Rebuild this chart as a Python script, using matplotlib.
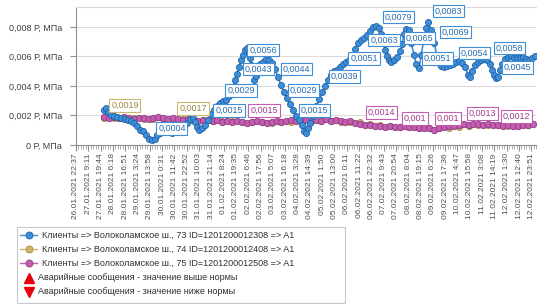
#!/usr/bin/env python

import numpy as np
import matplotlib
matplotlib.use('Agg')
import matplotlib.pyplot as plt
from matplotlib.lines import Line2D
from matplotlib.patches import Rectangle
from matplotlib.ticker import MultipleLocator

plt.close('all')
plt.rcParams['font.family'] = ['Liberation Sans', 'DejaVu Sans']

# =====================================
# Data
# =====================================
xtick_labels = [
    '26.01.2021 22:37', '27.01.2021 9:11', '27.01.2021 19:44', '28.01.2021 6:18',
    '28.01.2021 16:51', '29.01.2021 3:24', '29.01.2021 13:58', '30.01.2021 0:31',
    '30.01.2021 11:42', '30.01.2021 22:52', '31.01.2021 10:03', '31.01.2021 21:14',
    '01.02.2021 8:24', '01.02.2021 19:35', '02.02.2021 6:46', '02.02.2021 17:56',
    '03.02.2021 5:07', '03.02.2021 16:18', '04.02.2021 3:28', '04.02.2021 14:39',
    '05.02.2021 1:50', '05.02.2021 13:00', '06.02.2021 0:11', '06.02.2021 11:22',
    '06.02.2021 22:32', '07.02.2021 9:43', '07.02.2021 20:54', '08.02.2021 8:04',
    '08.02.2021 19:15', '09.02.2021 6:26', '09.02.2021 17:36', '10.02.2021 4:47',
    '10.02.2021 15:58', '11.02.2021 3:08', '11.02.2021 14:19', '12.02.2021 1:30',
    '12.02.2021 12:40', '12.02.2021 23:51']
ytick_values = [0, 0.002, 0.004, 0.006, 0.008]
ytick_labels = ['0 Р, МПа', '0,002 Р, МПа', '0,004 Р, МПа', '0,006 Р, МПа', '0,008 Р, МПа']

# sample position (10 samples per tick label), pressure in 1e-3 MPa
blue_x = [22.8, 24.4, 26.0, 28.5, 30.9, 33.3, 36.6, 39.8, 42.3, 44.7, 47.2, 49.6, 52.0,
          54.5, 56.9, 59.3, 61.8, 64.2, 65.9, 68.3, 70.7, 73.2, 75.6, 78.0, 80.5, 82.9,
          85.4, 87.8, 90.2, 92.7, 95.1, 96.7, 98.4, 100.0, 102.4, 104.9, 107.3, 109.8,
          112.2, 114.6, 117.1, 119.5, 122.0, 124.4, 126.8, 129.3, 130.9, 132.5, 134.1,
          135.8, 137.4, 139.0, 140.7, 141.5, 142.3, 143.9, 144.7, 146.3, 148.0, 149.6,
          152.0, 154.5, 156.9, 159.3, 161.8, 164.2, 166.7, 169.1, 171.5, 174.0, 176.4,
          178.9, 181.3, 183.7, 185.4, 187.0, 188.6, 190.2, 192.7, 195.1, 197.6, 200.0,
          202.4, 204.9, 207.3, 209.8, 212.2, 214.6, 217.1, 219.5, 222.0, 224.4, 226.8,
          229.3, 231.7, 234.1, 236.6, 239.0, 241.5, 243.9, 246.3, 248.0, 249.6, 251.2,
          252.8, 254.5, 256.1, 258.5, 261.0, 263.4, 265.0, 266.7, 268.3, 270.7, 272.4,
          274.8, 276.4, 278.9, 280.5, 282.9, 284.6, 286.2, 288.6, 291.1, 293.5, 295.1,
          296.7, 299.2, 301.6, 304.1, 306.5, 308.9, 311.4, 313.8, 316.3, 318.7, 320.3,
          322.0, 324.4, 326.8, 329.3, 331.7, 334.1, 336.6, 338.2, 339.8, 341.5, 343.1,
          344.7, 346.3, 348.8, 351.2, 353.7, 356.1, 358.5, 361.0, 363.4, 365.9, 368.3,
          370.7, 373.2]
blue_y = [2.35, 2.48, 2.21, 2.01, 1.94, 1.87, 1.80, 1.73, 1.67, 1.60, 1.46, 1.26, 1.05,
          0.92, 0.65, 0.44, 0.37, 0.44, 0.65, 0.78, 0.92, 0.99, 0.92, 0.78, 0.85, 0.99,
          1.12, 1.26, 1.46, 1.73, 1.80, 1.53, 1.19, 1.05, 1.12, 1.33, 1.67, 2.07,
          2.35, 2.62, 2.82, 2.96, 3.03, 3.30, 3.84, 4.39, 4.80, 5.27, 5.75,
          6.09, 6.43, 6.56, 6.29, 5.88, 5.41, 4.93, 4.39, 4.66, 5.20, 5.48,
          5.61, 5.82, 5.75, 5.54, 5.14, 4.59, 4.05, 3.57, 3.16, 2.76, 2.35,
          1.94, 1.67, 1.33, 0.92, 0.78, 1.12, 1.46, 1.94, 2.62, 3.10, 3.57,
          3.98, 4.39, 4.73, 5.00, 5.07, 5.27, 5.48, 5.61, 5.75, 6.02, 6.50,
          6.90, 7.11, 7.24, 7.45, 7.72, 7.99, 8.06, 7.93, 7.52, 6.97, 6.43,
          6.02, 5.75, 5.61, 5.75, 5.95, 6.36, 6.84, 7.52, 7.86, 7.79, 6.90,
          6.09, 5.48, 5.20, 6.09, 7.24, 7.93, 8.33, 7.79, 6.90, 6.02, 5.54,
          5.34, 5.27, 5.34, 5.41, 5.48, 5.61, 5.68, 5.54, 5.27, 4.73, 4.59,
          5.00, 5.41, 5.61, 5.75, 5.82, 5.75, 5.48, 5.07, 4.73, 4.52, 4.59,
          5.07, 5.48, 5.82, 5.95, 6.02, 5.88, 5.88, 5.88, 5.95, 5.82, 5.75,
          5.88, 6.02]

tan_x = np.arange(23, 369, 8)
tan_y = [1.80, 1.80, 1.73, 1.80, 1.73, 1.73, 1.73, 1.67, 1.73, 1.67, 1.67, 1.60, 1.60,
         1.60, 1.53, 1.53, 1.53, 1.46, 1.53, 1.53, 1.60, 1.60, 1.60, 1.60, 1.53, 1.53,
         1.53, 1.39, 1.33, 1.26, 1.19, 1.19, 1.12, 1.12, 1.12, 1.12, 1.19, 1.26, 1.33,
         1.33, 1.33, 1.26, 1.26, 1.33]

magenta_x = np.arange(23, 375, 4)
magenta_y = [1.87, 1.80, 1.87, 1.80, 1.87, 1.80, 1.73, 1.80, 1.80, 1.73, 1.80, 1.87, 1.80,
             1.73, 1.80, 1.73, 1.67, 1.73, 1.67, 1.60, 1.67, 1.67, 1.60, 1.67, 1.53, 1.60,
             1.53, 1.60, 1.53, 1.46, 1.53, 1.60, 1.53, 1.46, 1.53, 1.60, 1.53, 1.60, 1.67,
             1.60, 1.73, 1.67, 1.60, 1.67, 1.60, 1.73, 1.60, 1.67, 1.60, 1.53, 1.60, 1.46,
             1.39, 1.33, 1.33, 1.26, 1.26, 1.19, 1.26, 1.19, 1.19, 1.26, 1.19, 1.19, 1.12,
             1.12, 1.12, 1.05, 1.12, 1.19, 1.26, 1.26, 1.33, 1.39, 1.33, 1.39, 1.39, 1.33,
             1.39, 1.33, 1.33, 1.26, 1.33, 1.26, 1.26, 1.33, 1.33, 1.39]

# value callouts: series, text, box centre (x, y)
callouts = [
    ('blue', '0,0004', 78.0, 1.12), ('blue', '0,0015', 124.4, 2.35),
    ('blue', '0,0029', 134.1, 3.71), ('blue', '0,0043', 148.0, 5.14),
    ('blue', '0,0056', 152.0, 6.43), ('blue', '0,0044', 178.9, 5.14),
    ('blue', '0,0029', 184.6, 3.71), ('blue', '0,0015', 193.5, 2.35),
    ('blue', '0,0039', 217.9, 4.66), ('blue', '0,0051', 234.1, 5.88),
    ('blue', '0,0063', 250.4, 7.11), ('blue', '0,0079', 261.8, 8.67),
    ('blue', '0,0065', 278.9, 7.24), ('blue', '0,0083', 302.4, 9.08),
    ('blue', '0,0069', 308.1, 7.65), ('blue', '0,0051', 293.5, 5.88),
    ('blue', '0,0054', 323.6, 6.22), ('blue', '0,0058', 352.0, 6.56),
    ('blue', '0,0045', 358.5, 5.27),
    ('tan', '0,0019', 39.8, 2.69), ('tan', '0,0017', 95.1, 2.48),
    ('magenta', '0,0015', 152.8, 2.35), ('magenta', '0,0014', 248.0, 2.21),
    ('magenta', '0,001', 275.6, 1.80), ('magenta', '0,001', 302.4, 1.80),
    ('magenta', '0,0013', 330.1, 2.14), ('magenta', '0,0012', 357.7, 1.94)]

legend_labels = ['Клиенты => Волоколамское ш., 73 ID=1201200012308 => A1',
                 'Клиенты => Волоколамское ш., 74 ID=1201200012408 => A1',
                 'Клиенты => Волоколамское ш., 75 ID=1201200012508 => A1',
                 'Аварийные сообщения - значение выше нормы',
                 'Аварийные сообщения - значение ниже нормы']

# colours: face, edge, text
colors = {'blue':    ('#3f8fd8', '#1f62a8', '#2a6cb0'),
          'tan':     ('#cdb66e', '#a48c44', '#9c8440'),
          'magenta': ('#c45cb0', '#8e3a84', '#a03c8c')}

# =====================================
# Plot
# =====================================
fig = plt.figure(figsize=(5.5, 3.04), dpi=100)
ax = fig.add_axes([0.138, 0.523, 0.837, 0.454])

def plot_series(x, y, key, z, ms):
    face, edge, _ = colors[key]
    ax.plot(x, np.array(y) * 1e-3, '-o', color=face, linewidth=1.2,
            markersize=ms, markerfacecolor=face, markeredgecolor=edge,
            markeredgewidth=0.6, zorder=z)

plot_series(tan_x, tan_y, 'tan', 3, 4.4)
plot_series(magenta_x, magenta_y, 'magenta', 4, 4.6)
plot_series(blue_x, blue_y, 'blue', 5, 4.4)

for key, txt, cx, cy in callouts:
    face, edge, tcol = colors[key]
    ax.text(cx, cy * 1e-3, txt, fontsize=6.5, color=tcol, ha='center', va='center',
            zorder=10,
            bbox=dict(boxstyle='square,pad=0.2', facecolor='white', edgecolor=face,
                      linewidth=0.8))

ax.set_xlim(0, 374)
ax.set_ylim(0, 0.00935)
ax.set_xticks(np.arange(len(xtick_labels)) * 10)
ax.set_xticklabels(xtick_labels, rotation=90, fontsize=6, color='#505050')
ax.xaxis.set_minor_locator(MultipleLocator(2))
ax.set_yticks(ytick_values)
ax.set_yticklabels(ytick_labels, fontsize=6.5, color='#404040')
ax.tick_params(axis='x', which='major', length=4, color='#909090', pad=2)
ax.tick_params(axis='x', which='minor', length=3, color='#a0a0a0')
ax.tick_params(axis='y', length=4, color='#909090', pad=6)
ax.grid(axis='y', color='#dcdcdc', linewidth=0.8)
ax.set_axisbelow(True)
ax.spines['right'].set_visible(False)
ax.spines['top'].set_color('#dcdcdc')
ax.spines['left'].set_color('#909090')
ax.spines['bottom'].set_color('#909090')

# =====================================
# Legend
# =====================================
fig.patches.append(Rectangle((17 / 550., 1 - 303 / 304.), 328 / 550., 76 / 304.,
                             transform=fig.transFigure, facecolor='white',
                             edgecolor='#c8c8c8', linewidth=0.8))
row_y = [235, 249, 263, 278, 292]
for i, key in enumerate(['blue', 'tan', 'magenta']):
    face, edge, _ = colors[key]
    yy = 1 - row_y[i] / 304.
    fig.lines.append(Line2D([20 / 550., 37 / 550.], [yy, yy], transform=fig.transFigure,
                            color=face, linewidth=1.0))
    fig.lines.append(Line2D([28.5 / 550.], [yy], transform=fig.transFigure, marker='o',
                            markersize=5, markerfacecolor=face, markeredgecolor=edge,
                            markeredgewidth=0.6))
    fig.text(42 / 550., yy, legend_labels[i], fontsize=6.5, color='#303030', va='center')
for i, mk in zip([3, 4], ['^', 'v']):
    yy = 1 - row_y[i] / 304.
    fig.lines.append(Line2D([28.5 / 550.], [yy], transform=fig.transFigure, marker=mk,
                            markersize=6.5, markerfacecolor='#e8000b',
                            markeredgecolor='#e8000b'))
    fig.text(38 / 550., yy, legend_labels[i], fontsize=6.5, color='#303030', va='center')

fig.savefig('out.png', dpi=100)
